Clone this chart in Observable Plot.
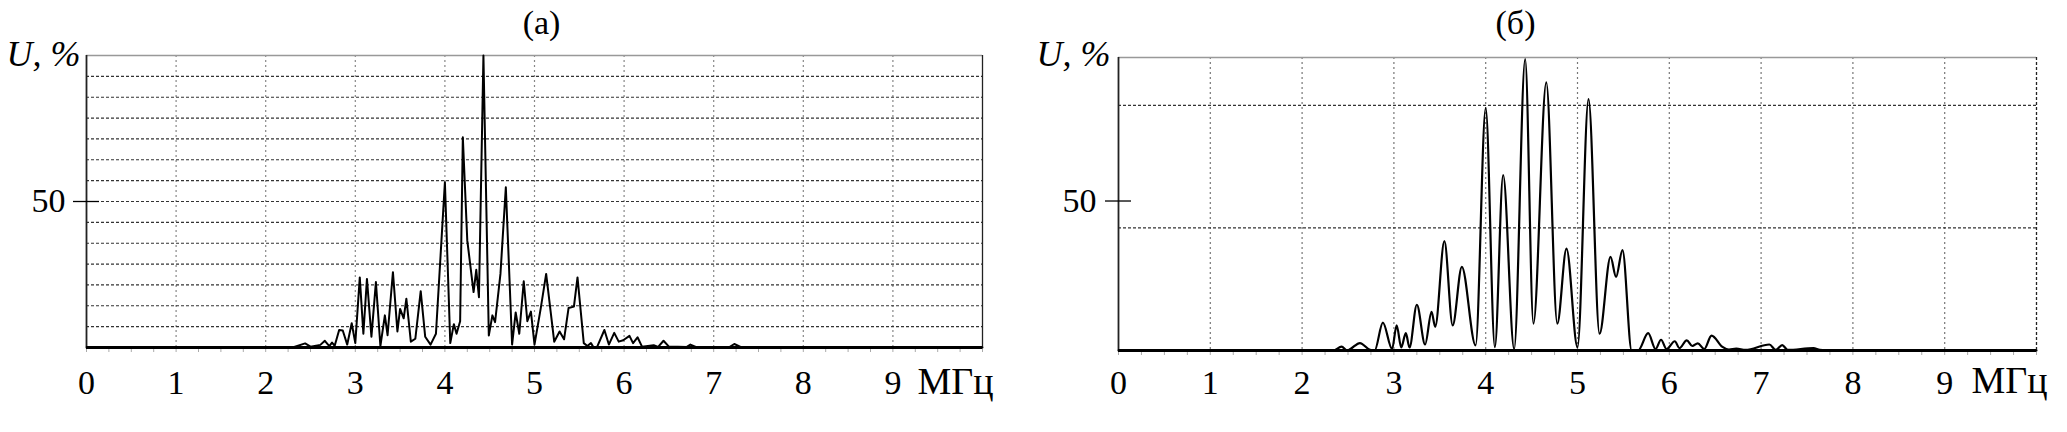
<!DOCTYPE html>
<html><head><meta charset="utf-8">
<script src="https://cdn.jsdelivr.net/npm/d3@7"></script>
<script src="https://cdn.jsdelivr.net/npm/@observablehq/plot@0.6"></script>
<style>
body{margin:0;background:#fff;}
#wrap{position:relative;width:2067px;height:432px;overflow:hidden;background:#fff;}
#wrap svg{position:absolute;top:0;}
</style></head><body><div id="wrap"></div>
<script>
// ---- data ----
const freqA = [0, 2.3, 2.44, 2.5, 2.61, 2.66, 2.71, 2.74, 2.77, 2.82, 2.86, 2.91, 2.96, 3.0, 3.05, 3.09, 3.13, 3.18, 3.23, 3.28, 3.33, 3.36, 3.42, 3.47, 3.5, 3.54, 3.57, 3.62, 3.67, 3.73, 3.78, 3.84, 3.9, 4.0, 4.06, 4.1, 4.13, 4.17, 4.2, 4.25, 4.32, 4.35, 4.38, 4.43, 4.49, 4.53, 4.56, 4.62, 4.68, 4.75, 4.79, 4.83, 4.88, 4.92, 4.96, 5.0, 5.07, 5.13, 5.22, 5.28, 5.33, 5.38, 5.44, 5.48, 5.55, 5.59, 5.63, 5.66, 5.7, 5.78, 5.83, 5.89, 5.94, 5.99, 6.06, 6.1, 6.15, 6.2, 6.33, 6.38, 6.44, 6.5, 6.7, 6.74, 6.8, 7.18, 7.23, 7.3, 7.8, 10];
const ampA  = [0, 0, 1.4, 0.3, 0.9, 2.3, 0.5, 1.7, 0.6, 6, 5.8, 1, 8.3, 1.5, 24, 4.7, 23.5, 3.7, 22.4, 0.5, 11, 4.2, 25.8, 5.5, 13.2, 10, 16.7, 2, 3, 19.3, 3.7, 1, 4.7, 56.6, 1.5, 8, 4.7, 9, 72, 36.6, 19, 26.6, 17.2, 100, 4.1, 11, 8.7, 25.2, 54.9, 1, 12, 4.7, 22.7, 9, 12.3, 1, 13.5, 25.2, 2, 5.5, 2.8, 13.5, 14, 24, 1.5, 0.5, 1.5, 0, 0.3, 6, 1, 5, 2, 2.5, 4, 1.5, 3.5, 0.3, 0.8, 0.2, 2.3, 0.3, 0.2, 1, 0.2, 0.2, 1.2, 0.2, 0, 0];

const freqB = [0, 2.34, 2.43, 2.49, 2.53, 2.63, 2.74, 2.79, 2.88, 2.98, 3.03, 3.08, 3.13, 3.17, 3.25, 3.34, 3.41, 3.45, 3.55, 3.64, 3.74, 3.89, 4.0, 4.1, 4.19, 4.31, 4.43, 4.52, 4.66, 4.78, 4.88, 5.0, 5.12, 5.24, 5.36, 5.42, 5.49, 5.59, 5.66, 5.77, 5.85, 5.91, 5.97, 6.06, 6.11, 6.19, 6.25, 6.31, 6.38, 6.46, 6.58, 6.65, 6.73, 6.83, 7.09, 7.16, 7.23, 7.29, 7.57, 7.64, 7.76, 10];
const ampB  = [0, 0, 1.3, 0, 0.6, 2.5, 0.2, 0, 9.3, 0.5, 8.4, 1, 5.8, 1, 15.3, 2, 12.9, 7.9, 36.6, 8.4, 28, 1.7, 81.1, 1.1, 58.7, 0.5, 97.5, 9, 89.7, 9, 34.1, 1.1, 84.1, 5.6, 31.3, 24.6, 33.6, 0, 0, 5.8, 0.5, 3.6, 0.5, 3.1, 0.8, 3.4, 1.5, 2.4, 0.5, 5, 1.2, 0.3, 0.6, 0.2, 2, 0.2, 1.8, 0.2, 0.8, 0.2, 0, 0];

const xDomain = [0, 10];
const xTickLabels = [0, 1, 2, 3, 4, 5, 6, 7, 8, 9];
const xGrid = [1, 2, 3, 4, 5, 6, 7, 8, 9];
const xMinorTicks = [0, 0.25, 0.5, 0.75, 1, 1.25, 1.5, 1.75, 2, 2.25, 2.5, 2.75, 3, 3.25, 3.5, 3.75, 4, 4.25, 4.5, 4.75, 5, 5.25, 5.5, 5.75, 6, 6.25, 6.5, 6.75, 7, 7.25, 7.5, 7.75, 8, 8.25, 8.5, 8.75, 9, 9.25, 9.5, 9.75, 10];
const yTicks = [50];
const yGridA = [7.14, 14.29, 21.43, 28.57, 35.71, 42.86, 50, 57.14, 64.29, 71.43, 78.57, 85.71, 92.86];
const yGridB = [41, 82];
const yMaxA = 100;
const yMaxB = 98;
const titles = ["(а)", "(б)"];
const unitX = "МГц";
const unitY = "U, %";

const FONT = "'Liberation Serif', 'Times New Roman', serif";

function panel(o) {
  const data = o.freq.map((f, i) => ({f, u: o.amp[i]}));
  return Plot.plot({
    width: o.width, height: 432,
    marginLeft: o.mL, marginRight: o.mR, marginTop: o.mT, marginBottom: o.mB,
    x: {domain: xDomain, label: null},
    y: {domain: [0, o.yMax], label: null},
    style: {fontFamily: FONT, fontSize: "34px", background: "white", color: "black", overflow: "visible"},
    marks: [
      Plot.ruleX(xGrid, {stroke: o.vGridColor, strokeDasharray: "2,3", strokeWidth: 1.2}),
      Plot.ruleY(o.gridY, {stroke: "#333", strokeDasharray: "3,2", strokeWidth: 1.2}),
      Plot.ruleY([o.yMax], {stroke: "#999", strokeWidth: 1.5}),
      Plot.ruleX([xDomain[1]], {stroke: "#222", strokeWidth: 1.3, strokeDasharray: o.rightDash}),
      Plot.ruleX([xDomain[0]], {stroke: "#222", strokeWidth: 1.8}),
      Plot.axisX({ticks: xMinorTicks, tickSize: 5, stroke: "#aaa", tickFormat: () => "", label: null}),
      Plot.axisX({ticks: xTickLabels, tickSize: 0, tickPadding: o.xPad, tickFormat: d => String(d), label: null, fontSize: 34}),
      Plot.axisY({ticks: yTicks, tickSize: 26, dx: 13, tickPadding: o.yPad, stroke: "black", strokeWidth: 1.3, label: null, fontSize: 34}),
      Plot.line(data, {x: "f", y: "u", stroke: "black", strokeWidth: o.lw, curve: o.curve, strokeLinejoin: "round"}),
      Plot.ruleY([0], {stroke: "black", strokeWidth: 3}),
      Plot.text([o.title], {text: d => d, frameAnchor: "top", lineAnchor: "bottom", dx: o.titleDx, dy: o.titleDy, fontSize: 34}),
      Plot.text([unitY], {text: d => d, frameAnchor: "top-left", textAnchor: "end", lineAnchor: "bottom", dx: o.uDx, dy: o.uDy, fontSize: 36, fontStyle: "italic"}),
      Plot.text([unitX], {text: d => d, frameAnchor: "bottom-right", textAnchor: "end", lineAnchor: "bottom", dx: 11, dy: o.mhzDy, fontSize: 38})
    ]
  });
}

const wrap = document.getElementById("wrap");
const a = panel({freq: freqA, amp: ampA, width: 1034, mL: 86, mR: 52, mT: 55, mB: 85, yMax: yMaxA, gridY: yGridA,
  curve: "linear", lw: 2, vGridColor: "#888", rightDash: null, xPad: 22, yPad: 8,
  title: titles[0], titleDx: 7, titleDy: -22, uDx: -6, uDy: 10, mhzDy: 46});
a.style.left = "0px";
const b = panel({freq: freqB, amp: ampB, width: 1033, mL: 84, mR: 31, mT: 57, mB: 82, yMax: yMaxB, gridY: yGridB,
  curve: "monotone-x", lw: 2.2, vGridColor: "#777", rightDash: "3,2", xPad: 19, yPad: 9,
  title: titles[1], titleDx: -62, titleDy: -24, uDx: -8, uDy: 8, mhzDy: 42});
b.style.left = "1034px";
wrap.appendChild(a);
wrap.appendChild(b);
</script>
</body></html>
